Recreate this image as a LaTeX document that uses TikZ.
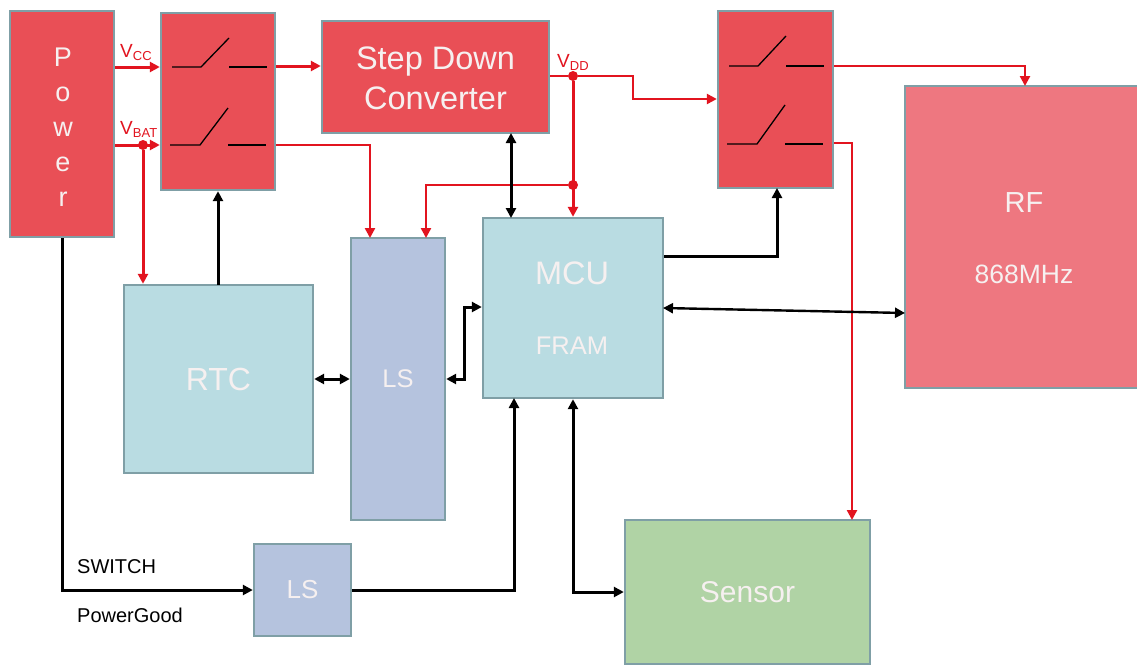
\documentclass[tikz,border=0pt]{standalone}
\usepackage{fontspec}
\setmainfont{Liberation Sans}
\usetikzlibrary{arrows.meta}
\definecolor{boxred}{HTML}{E94F56}
\definecolor{boxpink}{HTML}{EE7780}
\definecolor{boxteal}{HTML}{B9DCE2}
\definecolor{boxblue}{HTML}{B5C3DE}
\definecolor{boxgreen}{HTML}{B0D3A5}
\definecolor{boxedge}{HTML}{7F9FA6}
\definecolor{wirered}{HTML}{E2141F}
\definecolor{boxtext}{HTML}{F6F0F0}
\newcommand{\fsize}[1]{\fontsize{#1}{#1}\selectfont}
\newcommand{\volt}[1]{V{\fsize{13}\raisebox{-3.5pt}{#1}}}
\tikzset{
	block/.style={draw=boxedge, line width=2.4pt, text=boxtext, align=center, inner sep=0pt},
	redwire/.style={draw=wirered, line width=3pt, -{Triangle[length=10pt,width=10pt]}},
	blackwire/.style={draw=black, line width=3pt, -{Triangle[length=10pt,width=10pt]}},
	bothwire/.style={draw=black, line width=3pt, {Triangle[length=10pt,width=10pt]}-{Triangle[length=10pt,width=10pt]}},
	junction/.style={circle, fill=wirered, inner sep=0pt, minimum size=10pt},
	rail/.style={text=wirered, inner sep=0pt, anchor=base west, font=\fsize{19}},
	note/.style={text=black, inner sep=0pt, anchor=base west, font=\fsize{20}}
}
\begin{document}
\begin{tikzpicture}[x=1pt, y=-1pt]
		\useasboundingbox (0,0) rectangle (1137,664);
		\clip (0,0) rectangle (1137,664);
		\fill[white] (0,0) rectangle (1137,664);
		
		% Blocks
		\node[block, fill=boxred, minimum width=104, minimum height=226] (power) at (62,124) {};
		\node[text=boxtext, inner sep=0pt, align=center, font=\fsize{27}, execute at begin node={\baselineskip=35.0pt}] (powerlabel) at (63,127) {P\\o\\w\\e\\r};
		\node[block, fill=boxred, minimum width=114, minimum height=177] (switchA) at (218,101.5) {};
		\node[block, fill=boxred, minimum width=227, minimum height=112] (step) at (435.5,77) {};
		\node[text=boxtext, inner sep=0pt, align=center, font=\fsize{32.5}, execute at begin node={\baselineskip=40pt}] (steplabel) at (435.5,78) {Step Down\\Converter};
		\node[block, fill=boxred, minimum width=115, minimum height=177] (switchB) at (775.5,99.5) {};
		\node[block, fill=boxpink, minimum width=260, minimum height=302] (rf) at (1035,237) {};
		\node[text=boxtext, inner sep=0pt, font=\fsize{29}] (rflabel) at (1024,203) {RF};
		\node[text=boxtext, inner sep=0pt, font=\fsize{26.5}] (rfband) at (1024,274) {868MHz};
		\node[block, fill=boxteal, minimum width=189, minimum height=188, font=\fsize{32}] (rtc) at (218.5,379) {RTC};
		\node[block, fill=boxblue, minimum width=94, minimum height=282, font=\fsize{25.5}] (lsbig) at (398,379) {LS};
		\node[block, fill=boxteal, minimum width=180, minimum height=180] (mcu) at (573,308) {};
		\node[text=boxtext, inner sep=0pt, font=\fsize{32.5}] (mculabel) at (572,273) {MCU};
		\node[text=boxtext, inner sep=0pt, font=\fsize{25.5}] (framlabel) at (572,346) {FRAM};
		\node[block, fill=boxblue, minimum width=97, minimum height=92, font=\fsize{26}] (lssmall) at (302.5,590) {LS};
		\node[block, fill=boxgreen, minimum width=245, minimum height=144, font=\fsize{30}] (sensor) at (747.5,592) {Sensor};
		
		% Switch contacts
		\foreach \x/\y/\w/\h in {172/67/29/29, 170/145/30/37, 729/66/29/30, 727/144/30/39}
		{
			\draw[black, line width=1.3pt] (\x,\y) -- ++(\w,0) -- ++(28,-\h);
			\draw[black, line width=1.3pt] (\x+\w+28,\y) -- ++(38,0);
		}
		
		% Junctions
		\node[junction] (dotbat) at (143,145) {};
		\node[junction] (dotdd) at (573,76) {};
		\node[junction] (dotls) at (573,185) {};
		
		% Red wires
		\draw[redwire] (power.east |- 0,67) -- (switchA.west |- 0,67);
		\draw[redwire] (power.east |- dotbat) -- (switchA.west |- dotbat);
		\draw[redwire] (dotbat) -- (dotbat |- rtc.north);
		\draw[redwire] (switchA.east |- 0,66) -- (step.west |- 0,66);
		\draw[redwire, line width=2.4pt] (switchA.east |- dotbat) -| (370,238);
		\draw[wirered, line width=2.4pt] (step.east |- dotdd) -- (dotdd);
		\draw[redwire, line width=2.4pt] (dotdd) -- (633,76) -- (633,99) -- (switchB.west |- 0,99);
		\draw[redwire] (dotdd) -- (dotdd |- mcu.north);
		\draw[redwire, line width=2.4pt] (dotls) -| (426,238);
		\draw[redwire, line width=2.4pt] (switchB.east |- 0,66) -| (1025,86);
		\draw[redwire, line width=2.4pt] (switchB.east |- 0,143) -| (852,520);
		
		% Black wires
		\draw[blackwire] (218,285) -- (switchA.south);
		\draw[bothwire] (511,133) -- (511,218);
		\draw[blackwire] (mcu.east |- 0,256) -| (777,188);
		\draw[bothwire, line width=2.4pt] (663,308) -- (905,313);
		\draw[bothwire] (rtc.east) -- (lsbig.west);
		\draw[bothwire] (lsbig.east) -- (464,379) -- (464,307) -- (mcu.west |- 0,307);
		\draw[blackwire] (lssmall.east) -| (514,398);
		\draw[bothwire] (mcu.south) -- (573,592) -- (sensor.west);
		\draw[blackwire] (power.south) |- (lssmall.west);
		
		% Labels
		\node[rail] (vcc) at (120,57) {\volt{CC}};
		\node[rail] (vbat) at (120,134) {\volt{BAT}};
		\node[rail] (vdd) at (557,67) {\volt{DD}};
		\node[note] (switchlabel) at (77,573) {SWITCH};
		\node[note] (goodlabel) at (77,622) {PowerGood};
	\end{tikzpicture}
\end{document}
